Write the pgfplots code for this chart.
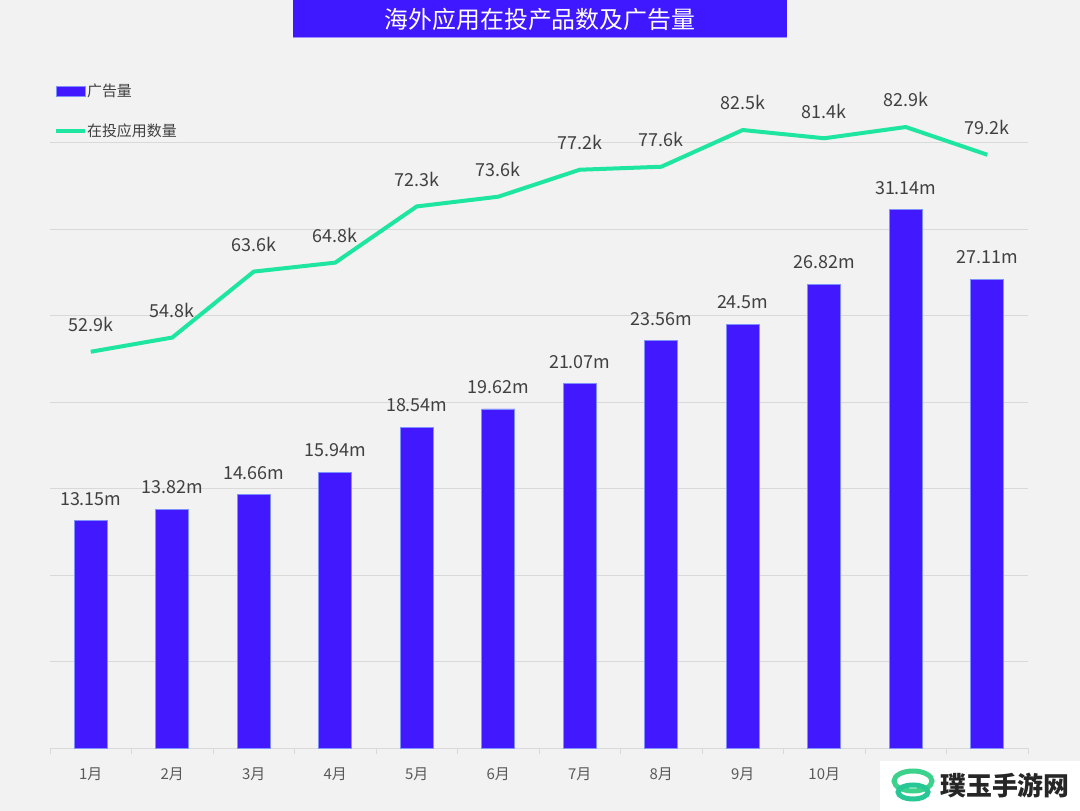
\documentclass[border=0pt]{standalone}
\usepackage{pgfplots}
\pgfplotsset{compat=1.18}
\usepackage{fontspec}
\setmainfont{Noto Sans CJK SC}
\definecolor{bg}{HTML}{F2F2F2}
\definecolor{barc}{HTML}{4218FF}
\definecolor{bare}{HTML}{8090FF}
\definecolor{linec}{HTML}{1EE6A0}
\definecolor{txt}{HTML}{404040}
\definecolor{txt2}{HTML}{595959}
\definecolor{gridc}{HTML}{D9D9D9}
\definecolor{titlebg}{HTML}{3F18FF}
\begin{document}
\begin{tikzpicture}
\fill[bg] (0bp,0bp) rectangle (1080bp,811bp);
\fill[titlebg] (293bp,773bp) rectangle (787bp,811bp);
\draw[titlebg!50!white, line width=1bp] (293bp,773bp) -- (787bp,773bp);
\node[text=white, font=\fontsize{24}{28}\selectfont] at (540bp,792bp) {海外应用在投产品数及广告量};
\begin{axis}[
  at={(50bp,63bp)}, anchor=south west, scale only axis,
  width=978bp, height=605bp,
  xmin=-0.5, xmax=11.5, ymin=0, ymax=35,
  axis x line*=bottom, axis y line*=left,
  x axis line style={draw=gridc, line width=1bp, -},
  y axis line style={draw=none},
  ytick={0,5,...,35}, yticklabels={}, ytick style={draw=none},
  ymajorgrids, grid style={draw=gridc, line width=1bp},
  xtick={0,...,11},
  xticklabels={1月,2月,3月,4月,5月,6月,7月,8月,9月,10月,,},
  major tick length=0pt,
  minor xtick={-0.5,0.5,...,11.5},
  minor tick length=6bp, tick align=outside,
  minor x tick style={draw=gridc, line width=1bp},
  xticklabel style={font=\fontsize{15}{18}\selectfont, text=txt2, anchor=center, yshift=-26bp},
  clip=false,
]
\addplot[ybar, bar width=33bp, fill=barc, draw=bare, line width=0.6bp,
  nodes near coords, point meta=explicit symbolic,
  every node near coord/.style={font=\fontsize{18}{20}\selectfont, text=txt, anchor=south, inner sep=0pt, yshift=15bp}]
coordinates {
(0,13.15) [13.15m]
(1,13.82) [13.82m]
(2,14.66) [14.66m]
(3,15.94) [15.94m]
(4,18.54) [18.54m]
(5,19.62) [19.62m]
(6,21.07) [21.07m]
(7,23.56) [23.56m]
(8,24.5) [24.5m]
(9,26.82) [26.82m]
(10,31.14) [31.14m]
(11,27.11) [27.11m]
};
\end{axis}
\begin{axis}[
  at={(50bp,63bp)}, anchor=south west, scale only axis,
  width=978bp, height=605bp,
  xmin=-0.5, xmax=11.5, ymin=0, ymax=80.77,
  hide axis, clip=false,
  legend style={at={(0.004,1.0529)}, anchor=west, draw=none, fill=none, inner sep=0pt,
    font=\fontsize{15}{18}\selectfont, text=txt, row sep=25bp,
    nodes={inner sep=0pt, anchor=west}},
  legend cell align=left,
  /tikz/every even column/.append style={column sep=3bp},
]
\addlegendimage{legend image code/.code={\fill[barc, draw=bare, line width=0.6bp] (0bp,-5bp) rectangle (29bp,5bp);}}
\addlegendentry{广告量}
\addplot[linec, line width=4bp, sharp plot,
  legend image code/.code={\draw[linec, line width=4bp] (0bp,0bp) -- (29bp,0bp);},
  nodes near coords, point meta=explicit symbolic,
  every node near coord/.style={font=\fontsize{18}{20}\selectfont, text=txt, anchor=south, inner sep=0pt, yshift=18bp}]
coordinates {
(0,52.9) [52.9k]
(1,54.8) [54.8k]
(2,63.6) [63.6k]
(3,64.8) [64.8k]
(4,72.3) [72.3k]
(5,73.6) [73.6k]
(6,77.2) [77.2k]
(7,77.6) [77.6k]
(8,82.5) [82.5k]
(9,81.4) [81.4k]
(10,82.9) [82.9k]
(11,79.2) [79.2k]
};
\addlegendentry{在投应用数量}
\end{axis}
\fill[white] (880bp,0bp) rectangle (1080bp,50bp);
\draw[color={rgb,255:red,60;green,210;blue,140}, line width=5bp] (913bp,30bp) ellipse (19bp and 10bp);
\draw[color={rgb,255:red,40;green,200;blue,150}, line width=5bp] (913bp,19bp) ellipse (15bp and 7bp);
\node[font=\bfseries\fontsize{26}{30}\selectfont, text=black!85] at (1005bp,25bp) {璞玉手游网};
\pgfresetboundingbox
\useasboundingbox (0bp,0bp) rectangle (1080bp,811bp);
\end{tikzpicture}
\end{document}
